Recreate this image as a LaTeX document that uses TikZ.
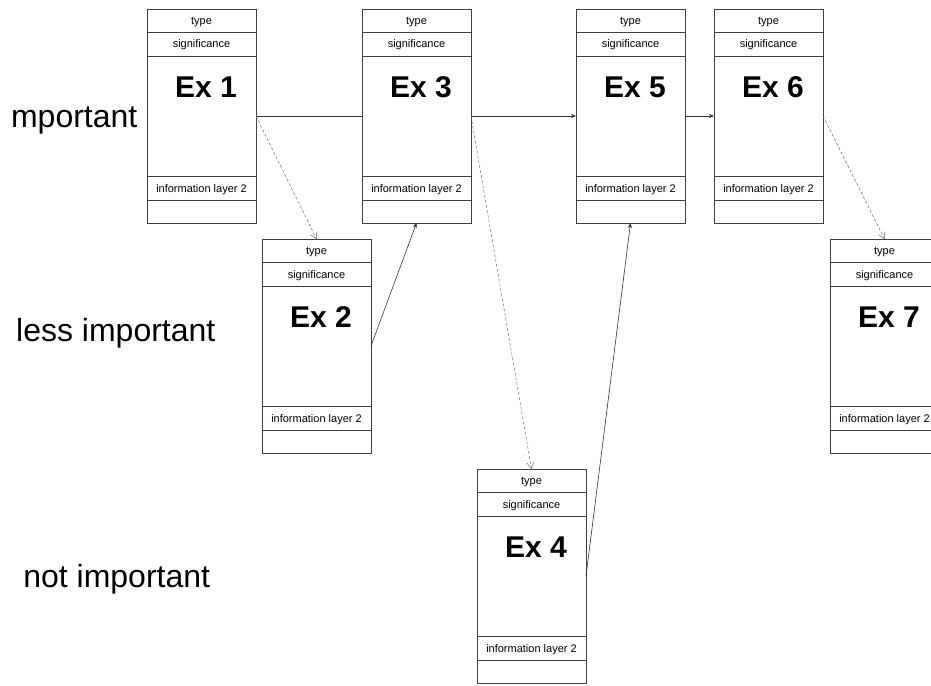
\documentclass[tikz,border=0pt]{standalone}
\usepackage{fontspec}
\setmainfont{Liberation Sans}
\usetikzlibrary{arrows.meta, positioning, calc}

\begin{document}
\begin{tikzpicture}[
    x=1pt, y=-1pt,
    cell/.style={draw=black!75, line width=0.8pt, minimum width=109pt,
                 inner sep=0pt, outer sep=0pt, text height=10pt, text depth=2pt,
                 font=\fontsize{11}{13}\selectfont},
    extitle/.style={inner sep=0pt, font=\fontsize{30}{34}\selectfont\bfseries},
    side/.style={inner sep=0pt, font=\fontsize{32}{36}\selectfont},
    link/.style={draw=black!80, line width=0.6pt},
    strong/.style={link, -{Stealth[length=5pt, width=4pt]}},
    weak/.style={draw=black!55, line width=0.5pt, dash pattern=on 3pt off 2pt,
                 -{Straight Barb[length=6pt, width=7pt]}}
  ]
  \useasboundingbox (0,0) rectangle (931,685);

  % example boxes: name / left / top / number
  \foreach \n/\x/\y/\t in {ex1/147/9/1, ex2/262/239/2, ex3/362/9/3,
                           ex4/477/469/4, ex5/576/9/5, ex6/714/9/6,
                           ex7/830/239/7} {
    \node[cell, minimum height=23pt, anchor=north west] (\n-type) at (\x,\y) {type};
    \node[cell, minimum height=24pt, below=0pt of \n-type] (\n-sig) {significance};
    \node[cell, minimum height=120pt, below=0pt of \n-sig] (\n) {};
    \node[cell, minimum height=24pt, below=0pt of \n] (\n-info) {information layer 2};
    \node[cell, minimum height=23pt, below=0pt of \n-info] (\n-foot) {};
    \node[extitle, anchor=base] (\n-title) at ([shift={(4.5,41)}]\n.north) {Ex \t};
  }

  \node[side, anchor=base] (imp) at (74.2,127.2) {mportant};
  \node[side, anchor=base] (less) at (115.8,341.5) {less important};
  \node[side, anchor=base] (not) at (116.7,587.3) {not important};

  \draw[link] (ex1.east) -- (ex3.west);
  \draw[weak] (ex1.east) -- (ex2-type.north);
  \draw[strong] (ex2.east) -- (ex3-foot.south);
  \draw[strong] (ex3.east) -- (ex5.west);
  \draw[weak] (ex3.east) -- (ex4-type.north);
  \draw[strong] (ex4.east) -- (ex5-foot.south);
  \draw[strong] (ex5.east) -- (ex6.west);
  \draw[weak] (ex6.east) -- (ex7-type.north);
\end{tikzpicture}
\end{document}
